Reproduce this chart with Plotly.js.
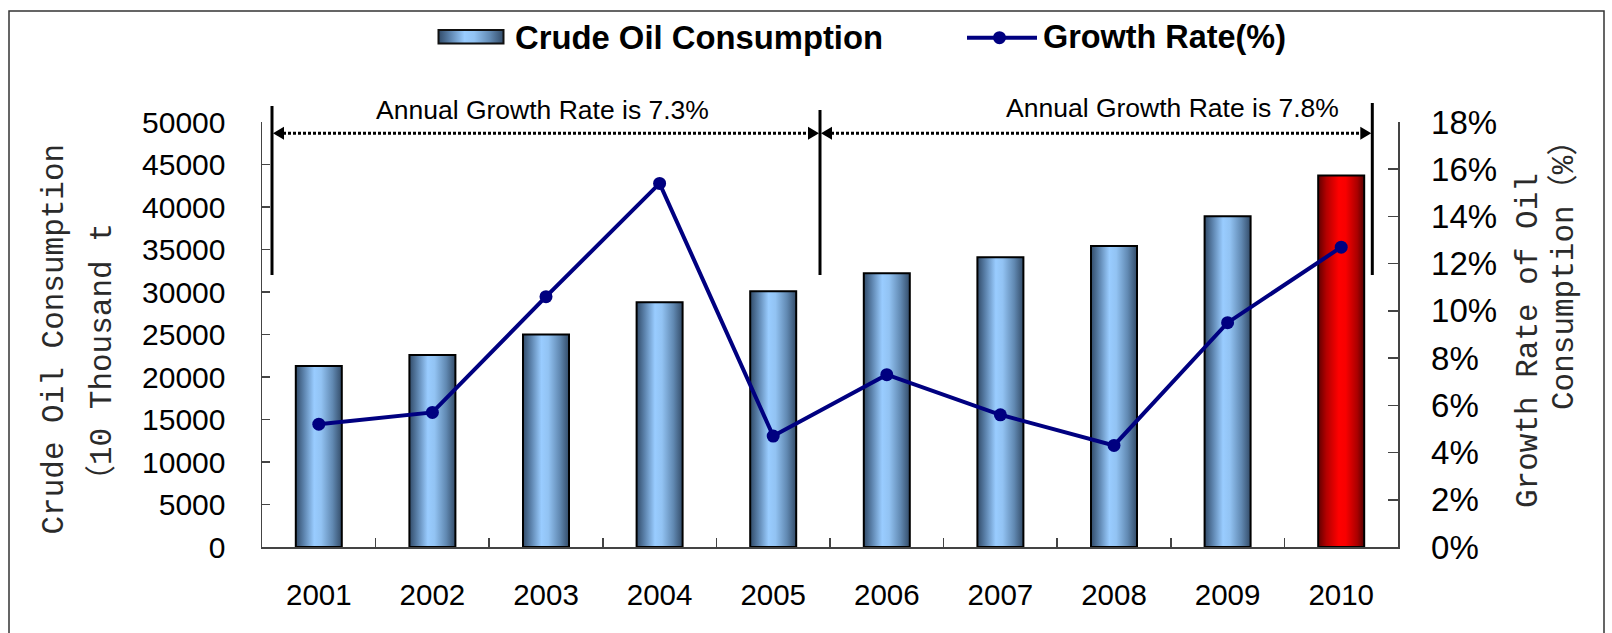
<!DOCTYPE html>
<html>
<head>
<meta charset="utf-8">
<script src="https://cdn.plot.ly/plotly-3.0.1.min.js"></script>
<style>
html, body { margin: 0; padding: 0; background: #ffffff; }
#chart { width: 1612px; height: 633px; }
</style>
</head>
<body>
<div id="chart"></div>
<script>
// ---------------- data ----------------
const years = ['2001', '2002', '2003', '2004', '2005', '2006', '2007', '2008', '2009', '2010'];
const consumption = [21300, 22600, 25000, 28800, 30100, 32200, 34100, 35400, 38900, 43700];
const growthRate = [5.2, 5.7, 10.6, 15.4, 4.7, 7.3, 5.6, 4.3, 9.5, 12.7];
const seriesNames = ['Crude Oil Consumption', 'Growth Rate(%)'];
const periodLabels = ['Annual Growth Rate is 7.3%', 'Annual Growth Rate is 7.8%'];
const leftTitle = ['Crude Oil Consumption', '（10 Thousand t'];
const rightTitle = ['Growth Rate of Oil', 'Consumption（%）'];
const highlightYear = '2010';

// ---------------- style ----------------
const W = 1612, H = 633;
const M = { l: 262, r: 214, t: 122, b: 86 };
const PW = W - M.l - M.r, PH = H - M.t - M.b;
const px = x => (x - M.l) / PW;          // pixel -> paper x (decorations only)
const py = y => (H - M.b - y) / PH;      // pixel -> paper y (decorations only)

const BLUE = 'rgb(111, 155, 201)';
const RED = 'rgb(200, 0, 0)';
const NAVY = '#000080';
const SANS = 'Liberation Sans, Arial, sans-serif';
const MONO = 'Liberation Mono, Noto Sans CJK SC, monospace';
const axisCol = '#444444';

const barColors = years.map(y => y === highlightYear ? RED : BLUE);

const traces = [
  {
    type: 'bar', name: seriesNames[0], x: years, y: consumption,
    marker: { color: barColors, line: { color: '#000000', width: 2 } },
    showlegend: false, hoverinfo: 'skip'
  },
  {
    type: 'scatter', mode: 'lines+markers', name: seriesNames[1], x: years, y: growthRate,
    yaxis: 'y2', line: { color: NAVY, width: 4 }, marker: { color: NAVY, size: 13 },
    showlegend: false, hoverinfo: 'skip', cliponaxis: false
  }
];

// decorations: bracket lines, dotted arrows, legend, frame
const arrowY = 133.3;
const bx = [272, 820, 1372.3];
const btop = [106, 110, 103];
const bbottom = 275;
const AL = 11, AH = 6.5;
function tri(tipX, dir) { // dir = -1 points left, +1 points right
  const bX = tipX - dir * AL;
  return 'M' + px(tipX) + ',' + py(arrowY) + ' L' + px(bX) + ',' + py(arrowY - AH) + ' L' + px(bX) + ',' + py(arrowY + AH) + ' Z';
}
const shapes = [
  { type: 'rect', xref: 'paper', yref: 'paper', x0: px(9), x1: px(1604), y0: py(645), y1: py(11),
    line: { color: '#333333', width: 1.5 }, fillcolor: 'rgba(0,0,0,0)', layer: 'below' }
];
bx.forEach((x, i) => shapes.push({ type: 'line', xref: 'paper', yref: 'paper', x0: px(x), x1: px(x), y0: py(bbottom), y1: py(btop[i]),
  line: { color: '#000000', width: 3 } }));
[[bx[0], bx[1]], [bx[1], bx[2]]].forEach(([a, b]) => {
  shapes.push({ type: 'line', xref: 'paper', yref: 'paper', x0: px(a + 6), x1: px(b - 6), y0: py(arrowY), y1: py(arrowY),
    line: { color: '#000000', width: 3, dash: '3px,2px' } });
  shapes.push({ type: 'path', xref: 'paper', yref: 'paper', path: tri(a + 1, -1), fillcolor: '#000000', line: { width: 0 } });
  shapes.push({ type: 'path', xref: 'paper', yref: 'paper', path: tri(b - 1, 1), fillcolor: '#000000', line: { width: 0 } });
});
// legend symbols
shapes.push({ type: 'rect', xref: 'paper', yref: 'paper', x0: px(438.5), x1: px(503.5), y0: py(43.5), y1: py(30),
  fillcolor: BLUE, line: { color: '#111111', width: 2 } });
shapes.push({ type: 'line', xref: 'paper', yref: 'paper', x0: px(967), x1: px(1037), y0: py(37.7), y1: py(37.7),
  line: { color: NAVY, width: 4 } });
shapes.push({ type: 'circle', xref: 'paper', yref: 'paper', x0: px(993), x1: px(1006), y0: py(44.2), y1: py(31.2),
  fillcolor: NAVY, line: { color: NAVY, width: 0 } });

const annotations = [
  { text: periodLabels[0], x: px(542), y: py(110), font: { family: SANS, size: 26.5, color: '#000' } },
  { text: periodLabels[1], x: px(1172), y: py(108), font: { family: SANS, size: 26.5, color: '#000' } },
  { text: '<b>' + seriesNames[0] + '</b>', x: px(513), y: py(37), xanchor: 'left', font: { family: SANS, size: 32.8, color: '#000' } },
  { text: '<b>' + seriesNames[1] + '</b>', x: px(1041), y: py(37), xanchor: 'left', font: { family: SANS, size: 32.4, color: '#000' } },
  { text: leftTitle[0], x: px(54), y: py(339.5), textangle: -90, font: { family: MONO, size: 31, color: '#2a2a2a' } },
  { text: leftTitle[1], x: px(102), y: py(360), textangle: -90, font: { family: MONO, size: 31, color: '#2a2a2a' } },
  { text: rightTitle[0], x: px(1528), y: py(341), textangle: -90, font: { family: MONO, size: 31, color: '#2a2a2a' } },
  { text: rightTitle[1], x: px(1564), y: py(268), textangle: -90, font: { family: MONO, size: 31, color: '#2a2a2a' } }
].map(a => Object.assign({ xref: 'paper', yref: 'paper', showarrow: false, xanchor: 'center', yanchor: 'middle' }, a));

const layout = {
  width: W, height: H,
  margin: M,
  paper_bgcolor: '#ffffff', plot_bgcolor: 'rgba(0,0,0,0)',
  showlegend: false,
  bargap: 0.595,
  xaxis: {
    type: 'category', range: [-0.5, 9.5], tickson: 'boundaries', ticks: 'inside', ticklen: 9,
    tickcolor: axisCol, tickwidth: 1.5, showline: true, linecolor: axisCol, linewidth: 1.5,
    showgrid: false, zeroline: false, tickfont: { family: SANS, size: 29.5, color: '#000' },
    ticklabelstandoff: 21, fixedrange: true
  },
  yaxis: {
    range: [0, 50000], dtick: 5000, tick0: 0, tickformat: 'd', ticks: 'inside', ticklen: 8,
    tickcolor: axisCol, tickwidth: 1.5, showline: true, linecolor: axisCol, linewidth: 1.5,
    showgrid: false, zeroline: false, tickfont: { family: SANS, size: 30, color: '#000' },
    ticklabelstandoff: 29, fixedrange: true
  },
  yaxis2: {
    overlaying: 'y', side: 'right', range: [0, 18], dtick: 2, tick0: 0, ticksuffix: '%',
    ticks: 'inside', ticklen: 10, tickcolor: axisCol, tickwidth: 1.5, showline: true,
    linecolor: axisCol, linewidth: 1.5, showgrid: false, zeroline: false,
    tickfont: { family: SANS, size: 33, color: '#000' },
    ticklabelstandoff: 25, fixedrange: true
  },
  shapes: shapes,
  annotations: annotations
};

function addGradients(gd) {
  const ns = 'http://www.w3.org/2000/svg';
  const svg = gd.querySelector('svg.main-svg');
  let defs = svg.querySelector('defs');
  if (!defs) { defs = document.createElementNS(ns, 'defs'); svg.insertBefore(defs, svg.firstChild); }
  function grad(id, stops) {
    const lg = document.createElementNS(ns, 'linearGradient');
    lg.setAttribute('id', id);
    lg.setAttribute('x1', '0'); lg.setAttribute('y1', '0');
    lg.setAttribute('x2', '1'); lg.setAttribute('y2', '0');
    stops.forEach(([o, c]) => {
      const s = document.createElementNS(ns, 'stop');
      s.setAttribute('offset', o); s.setAttribute('stop-color', c);
      lg.appendChild(s);
    });
    defs.appendChild(lg);
  }
  grad('gBlue', [['0', '#314b69'], ['0.18', '#5d84ae'], ['0.4', '#99ccff'], ['0.55', '#92c3f3'], ['0.8', '#6189b2'], ['1', '#334c69']]);
  grad('gRed', [['0', '#600000'], ['0.18', '#b40000'], ['0.45', '#ff0000'], ['0.6', '#f80000'], ['0.85', '#aa0000'], ['1', '#580000']]);
  gd.querySelectorAll('path').forEach(p => {
    const f = p.style.fill;
    if (f === BLUE) p.style.fill = 'url(#gBlue)';
    else if (f === RED) p.style.fill = 'url(#gRed)';
  });
}

const gd = document.getElementById('chart');
Plotly.newPlot(gd, traces, layout, { displayModeBar: false, staticPlot: true }).then(addGradients);
</script>
</body>
</html>
